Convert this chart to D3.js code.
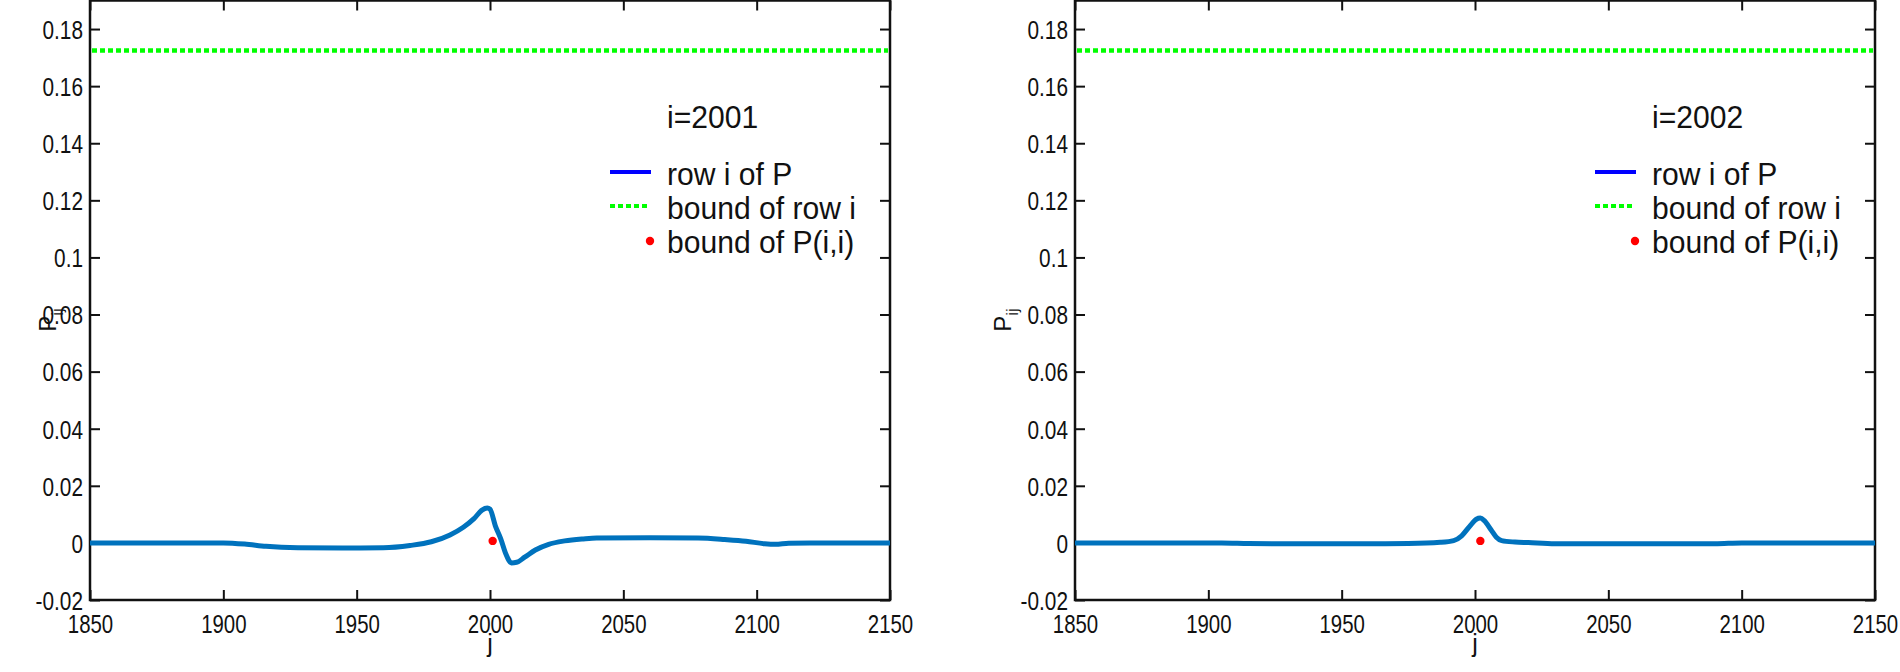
<!DOCTYPE html>
<html>
<head>
<meta charset="utf-8">
<script src="https://cdn.jsdelivr.net/npm/d3@7"></script>
<style>
body { margin: 0; background: #fff; }
text { font-family: "Liberation Sans", Arial, sans-serif; fill: #111; }
</style>
</head>
<body>
<div id="chart"></div>
<script>
var width = 1900;
var height = 672;

var xTicks = [1850, 1900, 1950, 2000, 2050, 2100, 2150];
var yTicks = [-0.02, 0, 0.02, 0.04, 0.06, 0.08, 0.1, 0.12, 0.14, 0.16, 0.18];

// row i = 2001
var j1 = [1850, 1900, 1908, 1916, 1928, 1945, 1960, 1970, 1978, 1985, 1990, 1994, 1997, 1999, 2000,
          2002, 2004, 2006, 2008, 2010, 2013, 2017, 2022, 2028, 2035, 2040, 2060, 2078, 2088, 2096,
          2103, 2107, 2112, 2120, 2150];
var p1 = [0, 0, -0.0004, -0.0012, -0.0017, -0.0018, -0.0017, -0.0009, 0.0004, 0.0028, 0.0055, 0.0085, 0.0115, 0.0122, 0.0118,
          0.0060, 0.0015, -0.0040, -0.0070, -0.0068, -0.0050, -0.0025, -0.0005, 0.0007, 0.0014, 0.0017, 0.0018, 0.0017, 0.0012, 0.0006,
          -0.0003, -0.0005, -0.0001, 0, 0];

// row i = 2002
var j2 = [1850, 1905, 1915, 1930, 1960, 1975, 1987, 1992, 1995, 1998, 2000.5, 2002, 2003.5, 2006, 2008,
          2010, 2015, 2020, 2030, 2060, 2090, 2100, 2150];
var p2 = [0, 0, -0.0002, -0.0003, -0.0003, -0.0002, 0.0002, 0.0008, 0.0025, 0.0058, 0.0083, 0.0087, 0.0078, 0.0046, 0.0020,
          0.0008, 0.0003, 0.0001, -0.0003, -0.0003, -0.0003, 0, 0];

var rowBound = [0.1725, 0.1725];
var diagBound = [{j: 2001, p: 0.0007}, {j: 2002, p: 0.0007}];
var titles = ["i=2001", "i=2002"];
var legendLabels = ["row i of P", "bound of row i", "bound of P(i,i)"];

var squeeze = 0.8;   // tick labels are a narrow face in the original

var svg = d3.select("#chart")
    .append("svg")
    .attr("width", width)
    .attr("height", height);

draw(0, 90, 34, j1, p1);
draw(1, 1075, 64, j2, p2);

function draw(k, left, labelGap, js, ps) {
    var pw = 800;

    var x = d3.scaleLinear()
        .domain([1850, 2150])
        .range([left, left + pw]);

    var y = d3.scaleLinear()
        .domain([-0.02, 0.19])
        .range([600, 0.5]);

    var g = svg.append("g");

    var fmt = function(d) { return String(+d.toFixed(2)); };

    // bottom / top
    g.append("g")
        .attr("transform", "translate(0,600)")
        .call(d3.axisBottom(x).tickValues(xTicks).tickFormat(d3.format("d"))
            .tickSizeInner(-10).tickSizeOuter(0).tickPadding(15))
        .call(function(a) {
            a.selectAll("text")
                .attr("font-size", 25.5)
                .attr("dy", "0.71em")
                .attr("transform", "scale(" + squeeze + ",1)");
        });
    g.append("g")
        .attr("transform", "translate(0,0.5)")
        .call(d3.axisTop(x).tickValues(xTicks).tickSizeInner(-10).tickSizeOuter(0).tickFormat(""));

    // left / right
    g.append("g")
        .attr("transform", "translate(" + left + ",0)")
        .call(d3.axisLeft(y).tickValues(yTicks).tickFormat(fmt).tickSizeInner(-10).tickSizeOuter(0))
        .call(function(a) {
            a.selectAll("text")
                .attr("font-size", 26)
                .attr("dy", "0.36em")
                .attr("x", -7 / squeeze)
                .attr("transform", "scale(" + squeeze + ",1)");
        });
    g.append("g")
        .attr("transform", "translate(" + (left + pw) + ",0)")
        .call(d3.axisRight(y).tickValues(yTicks).tickSizeInner(-10).tickSizeOuter(0).tickFormat(""));

    g.selectAll(".domain").remove();
    g.selectAll(".tick line").attr("stroke", "#111").attr("stroke-width", 2);

    g.append("rect")
        .attr("x", left)
        .attr("y", 0.5)
        .attr("width", pw)
        .attr("height", 599.5)
        .attr("fill", "none")
        .attr("stroke", "#111")
        .attr("stroke-width", 2.5);

    // bound of row i
    g.append("line")
        .attr("x1", x(1850) + 2)
        .attr("x2", x(2150) - 2)
        .attr("y1", y(rowBound[k]))
        .attr("y2", y(rowBound[k]))
        .attr("stroke", "#00ff00")
        .attr("stroke-width", 4.5)
        .attr("stroke-dasharray", "5,3");

    var data = js.map(function(d, i) { return {x: d, y: ps[i]}; });

    var line = d3.line()
        .curve(d3.curveMonotoneX)
        .x(function(d) { return x(d.x); })
        .y(function(d) { return y(d.y); });

    g.append("path")
        .datum(data)
        .attr("fill", "none")
        .attr("stroke", "#0072bd")
        .attr("stroke-width", 5)
        .attr("d", line);

    g.append("circle")
        .attr("cx", x(diagBound[k].j))
        .attr("cy", y(diagBound[k].p))
        .attr("r", 4.2)
        .attr("fill", "#ff0000");

    // axis labels
    g.append("text")
        .attr("x", x(2000))
        .attr("y", 652)
        .attr("text-anchor", "middle")
        .attr("font-size", 25)
        .text("j");

    var yl = g.append("text")
        .attr("transform", "translate(" + (left - labelGap) + ",320) rotate(-90)")
        .attr("text-anchor", "middle")
        .attr("font-size", 24);
    yl.append("tspan").text("P");
    yl.append("tspan").attr("font-size", 17).attr("dy", 7).text("ij");

    // legend
    var lx = left + 577;
    var lt = g.append("g")
        .attr("transform", "translate(" + lx + ",0) scale(0.94,1)");
    lt.append("text")
        .attr("x", 0)
        .attr("y", 128)
        .attr("font-size", 32)
        .text(titles[k]);

    lt.selectAll(".lab")
        .data(legendLabels)
        .enter()
        .append("text")
        .attr("x", 0)
        .attr("y", function(d, i) { return 185 + i * 34; })
        .attr("font-size", 32)
        .text(function(d) { return d; });

    g.append("line")
        .attr("x1", lx - 57).attr("x2", lx - 16)
        .attr("y1", 172).attr("y2", 172)
        .attr("stroke", "#0000ff")
        .attr("stroke-width", 4);
    g.append("line")
        .attr("x1", lx - 57).attr("x2", lx - 18)
        .attr("y1", 206).attr("y2", 206)
        .attr("stroke", "#00ff00")
        .attr("stroke-width", 4)
        .attr("stroke-dasharray", "5,3");
    g.append("circle")
        .attr("cx", lx - 17)
        .attr("cy", 241)
        .attr("r", 4.2)
        .attr("fill", "#ff0000");
}
</script>
</body>
</html>
